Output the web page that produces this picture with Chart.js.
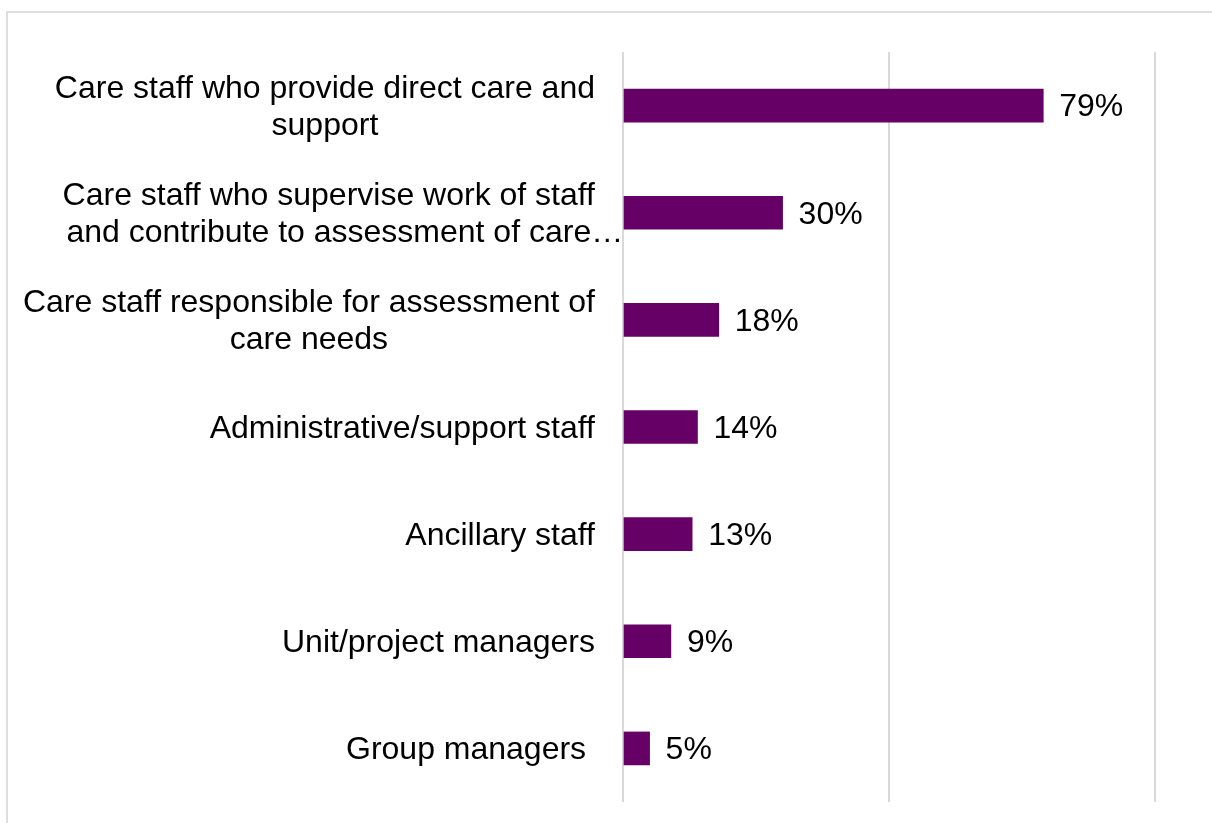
<!DOCTYPE html>
<html>
<head>
<meta charset="utf-8">
<script src="https://cdn.jsdelivr.net/npm/chart.js@4"></script>
<style>
  html, body { margin: 0; padding: 0; background: #fff; overflow: hidden; }
  #wrap { position: relative; width: 1212px; height: 823px; }
  #frame { position: absolute; left: 6px; top: 11px; width: 1300px; height: 900px;
           border-left: 2px solid #dedede; border-top: 2px solid #dedede; }
  canvas { position: absolute; left: 0; top: 0; }
</style>
</head>
<body>
<div id="wrap">
  <div id="frame"></div>
  <canvas id="staffChart" width="1212" height="823"></canvas>
</div>
<script>
// categories (each entry = wrapped lines, as in the original)
var categories = [
    ["Care staff who provide direct care and", "support"],
    ["Care staff who supervise work of staff", "and contribute to assessment of care\u2026"],
    ["Care staff responsible for assessment of", "care needs"],
    ["Administrative/support staff"],
    ["Ancillary staff"],
    ["Unit/project managers"],
    ["Group managers "]
];
var percentages = [79, 30, 18, 14, 13, 9, 5];
var axisTicks = [0, 50, 100];

var fontFamily = "'Liberation Sans', Arial, sans-serif";

// draws the wrapped category labels and the value labels
var labelPlugin = {
    id: 'labelPlugin',
    afterDatasetsDraw: function(chart) {
        var ctx = chart.ctx;
        var yScale = chart.scales.y;
        var meta = chart.getDatasetMeta(0);
        ctx.save();
        ctx.font = '32px ' + fontFamily;
        ctx.fillStyle = '#000';
        ctx.textBaseline = 'middle';

        // category labels
        var rightEdge = chart.chartArea.left - 28;
        var lineH = 37.5;
        categories.forEach(function(lines, i) {
            var yc = yScale.getPixelForValue(i);
            var y0 = yc - (lines.length - 1) * lineH / 2 + 2;
            if (lines.length == 1) {
                ctx.textAlign = 'right';
                ctx.fillText(lines[0], rightEdge, y0);
            } else {
                var w = ctx.measureText(lines[0]).width;
                var cx = rightEdge - w / 2;
                ctx.textAlign = 'center';
                lines.forEach(function(line, j) {
                    ctx.fillText(line, cx + (j > 0 && lines[j].length > lines[0].length - 2 ? 16 : 0), y0 + j * lineH);
                });
            }
        });

        // value labels
        ctx.textAlign = 'left';
        meta.data.forEach(function(bar, i) {
            ctx.fillText(percentages[i] + '%', bar.x + 16, bar.y + 2);
        });
        ctx.restore();
    }
};

var ctx = document.getElementById('staffChart').getContext('2d');
var staffChart = new Chart(ctx, {
    type: 'bar',
    data: {
        labels: categories,
        datasets: [{
            label: "Staff",
            backgroundColor: '#660066',
            borderWidth: 0,
            barThickness: 33,
            data: percentages
        }]
    },
    options: {
        indexAxis: 'y',
        responsive: false,
        animation: false,
        layout: { padding: { left: 623, right: 57, top: 52, bottom: 21 } },
        plugins: {
            legend: { display: false },
            tooltip: { enabled: false }
        },
        scales: {
            x: {
                min: axisTicks[0],
                max: axisTicks[axisTicks.length - 1],
                afterBuildTicks: function(axis) {
                    axis.ticks = axisTicks.map(function(v) { return { value: v }; });
                },
                ticks: { display: false },
                border: { display: false },
                grid: { color: '#d9d9d9', lineWidth: 2, drawTicks: false }
            },
            y: {
                display: false
            }
        }
    },
    plugins: [labelPlugin]
});
</script>
</body>
</html>
